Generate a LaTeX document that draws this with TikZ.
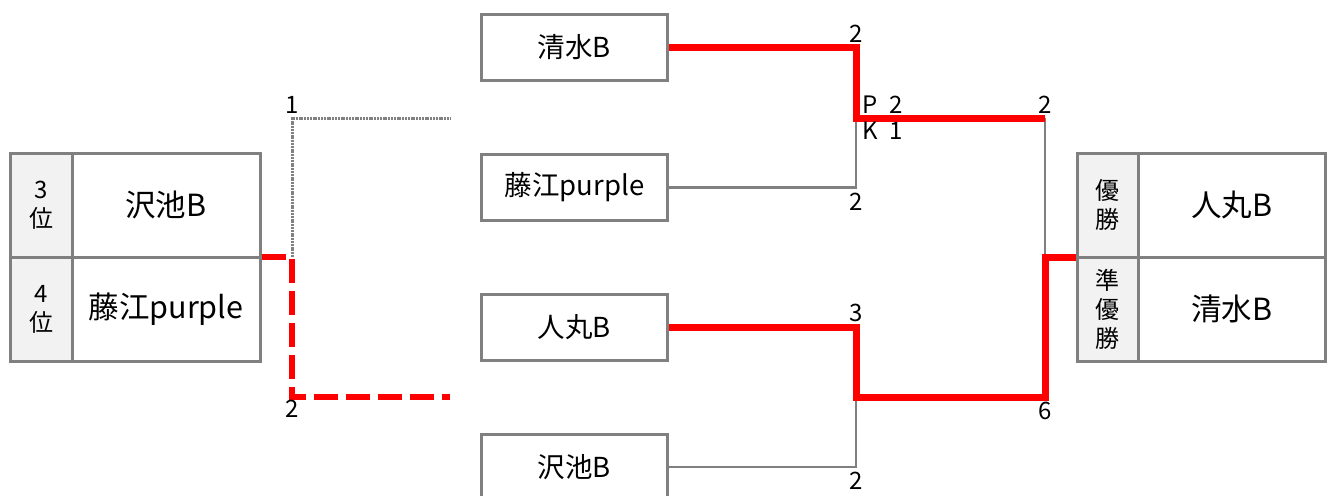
\documentclass[tikz,border=0pt]{standalone}
\usepackage{fontspec}
\setmainfont{Noto Sans CJK JP}
\usepackage{tikz}
\usetikzlibrary{positioning}
\definecolor{linegray}{RGB}{128,128,128}
\definecolor{cellgray}{RGB}{242,242,242}

\begin{document}
\begin{tikzpicture}[x=1pt, y=-1pt,
  team/.style={draw=linegray, line width=3pt, minimum width=186pt, minimum height=66pt,
               inner sep=0pt, font=\fontsize{27.5}{30}\selectfont},
  rankcell/.style={draw=linegray, line width=3pt, fill=cellgray, minimum height=104pt,
               inner sep=0pt, align=center, font=\fontsize{24}{29}\selectfont},
  namecell/.style={draw=linegray, line width=3pt, minimum height=104pt,
               inner sep=0pt, font=\fontsize{30.5}{32}\selectfont},
  winline/.style={draw=red, line width=7pt},
  loseline/.style={draw=linegray, line width=2.8pt},
  score/.style={inner sep=2pt, font=\fontsize{24}{24}\selectfont}]
\clip (0,0) rectangle (1332,495);
%
% teams
\node[team] (shimizu)  at (574.5,47.5)  {清水B};
\node[team] (fujie)    at (574.5,187.5) {藤江purple};
\node[team] (hitomaru) at (574.5,327.5) {人丸B};
\node[team] (sawaike)  at (574.5,467)   {沢池B};
%
% results, 3rd / 4th
\node[rankcell, minimum width=62pt]  (third)    at (41,205)  {3\\位};
\node[rankcell, minimum width=62pt]  (fourth)   at (41,309)  {4\\位};
\node[namecell, minimum width=188pt] (thirdnm)  at (166,205) {沢池B};
\node[namecell, minimum width=188pt] (fourthnm) at (166,309) {藤江purple};
%
% results, final
\node[rankcell, minimum width=61pt]  (champ)    at (1107.5,205) {優\\勝};
\node[rankcell, minimum width=61pt]  (runner)   at (1107.5,309) {準\\優\\勝};
\node[namecell, minimum width=187pt] (champnm)  at (1232,205)   {人丸B};
\node[namecell, minimum width=187pt] (runnernm) at (1232,309)   {清水B};
%
\coordinate (j1)  at (856,118);
\coordinate (j2)  at (856,397);
\coordinate (fin) at (1045,257);
\coordinate (t)   at (292,257);
\coordinate (t1)  at (450,118);
\coordinate (t2)  at (450,397);
%
\draw[loseline] (fujie.east) -| (j1);
\draw[loseline] (sawaike.east) -| (j2);
\draw[loseline] (j1 -| fin) -- (fin);
\draw[winline] (shimizu.east) -| (j1) -- (j1 -| fin);
\draw[winline] (hitomaru.east) -| (j2) -- (j2 -| fin) -- (fin) -- (fin -| champ.west);
%
% 3rd place match
\draw[linegray, line width=3pt, dash pattern=on 2pt off 0.8pt] (t) |- (t1);
\draw[red, line width=5.5pt, dash pattern=on 24pt off 8pt] (t -| thirdnm.east) -- (t) |- (t2);
%
\node[score, above=3pt] at (shimizu.east -| j1) {2};
\node[score, above right=2pt and 4pt] at (j1) {P\hspace{0.5em}2};
\node[score, below right=2pt and 4pt] at (j1) {K\hspace{0.5em}1};
\node[score, below=3pt] at (fujie.east -| j1) {2};
\node[score, above=3pt] at (hitomaru.east -| j2) {3};
\node[score, below=3pt] at (sawaike.east -| j2) {2};
\node[score, above=2pt] at (j1 -| fin) {2};
\node[score, below=3pt] at (j2 -| fin) {6};
\node[score, above=2pt] at (t |- t1) {1};
\node[score, below=1pt] at (t |- t2) {2};
\end{tikzpicture}
\end{document}
